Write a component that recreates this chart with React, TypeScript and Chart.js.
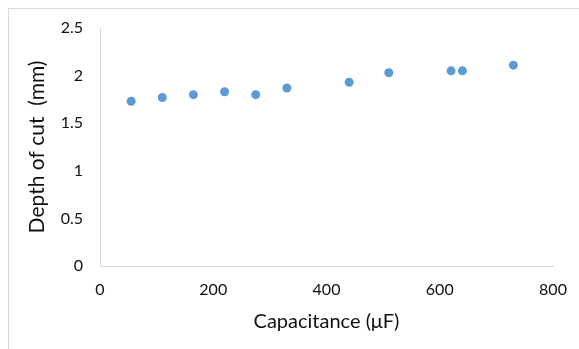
import React, { useEffect, useRef } from "react";
import { Chart, registerables } from "chart.js";

Chart.register(...registerables);

const capacitance = [55, 110, 165, 220, 275, 330, 440, 510, 620, 640, 730];
const depthOfCut = [1.73, 1.77, 1.8, 1.83, 1.8, 1.87, 1.93, 2.03, 2.05, 2.05, 2.11];
const xTitle = "Capacitance (μF)";
const yTitle = "Depth of cut  (mm)";

export default function App() {
  const ref = useRef<HTMLCanvasElement | null>(null);
  useEffect(() => {
    if (!ref.current) return;
    const points = capacitance.map((x, i) => ({ x, y: depthOfCut[i] }));
    const font = { family: "Lato", size: 16 };
    const chart = new Chart(ref.current, {
      type: "scatter",
      data: {
        datasets: [
          {
            data: points,
            backgroundColor: "#5b9bd5",
            borderColor: "#5b9bd5",
            borderWidth: 0,
            pointRadius: 4.5,
          },
        ],
      },
      options: {
        animation: false,
        responsive: false,
        layout: { padding: { left: 0, right: 26, top: 19, bottom: 0 } },
        plugins: { legend: { display: false }, tooltip: { enabled: false } },
        scales: {
          x: {
            type: "linear",
            min: 0,
            max: 800,
            ticks: { stepSize: 200, color: "#111", font, padding: 14 },
            grid: { display: false, drawTicks: false },
            border: { display: true, color: "#d9d9d9", width: 1 },
            title: {
              display: true,
              text: xTitle,
              color: "#111",
              font: { family: "Lato", size: 20 },
              padding: { top: 0, bottom: 15 },
            },
            afterFit: (s: any) => {
              s.height = 83;
              s.paddingLeft = 0;
              s.paddingRight = 0;
            },
          },
          y: {
            type: "linear",
            min: 0,
            max: 2.5,
            ticks: {
              stepSize: 0.5,
              color: "#111",
              font,
              padding: 17,
              callback: (v: any) => String(v),
            },
            grid: { display: false, drawTicks: false },
            border: { display: true, color: "#d9d9d9", width: 1 },
            title: {
              display: true,
              text: yTitle,
              color: "#111",
              font: { family: "Lato", size: 21 },
              padding: { top: 16, bottom: 0 },
            },
            afterFit: (s: any) => {
              s.width = 91;
              s.paddingTop = 0;
              s.paddingBottom = 0;
            },
          },
        },
      },
    });
    return () => chart.destroy();
  }, []);
  return (
    <div
      style={{
        position: "fixed",
        left: 8,
        top: 8,
        width: 580,
        height: 350,
        borderTop: "1px solid #d9d9d9",
        borderLeft: "1px solid #d9d9d9",
        background: "#fff",
      }}
    >
      <canvas
        ref={ref}
        width={570}
        height={340}
        style={{ position: "absolute", left: 0, top: 0, width: 570, height: 340 }}
      />
    </div>
  );
}
